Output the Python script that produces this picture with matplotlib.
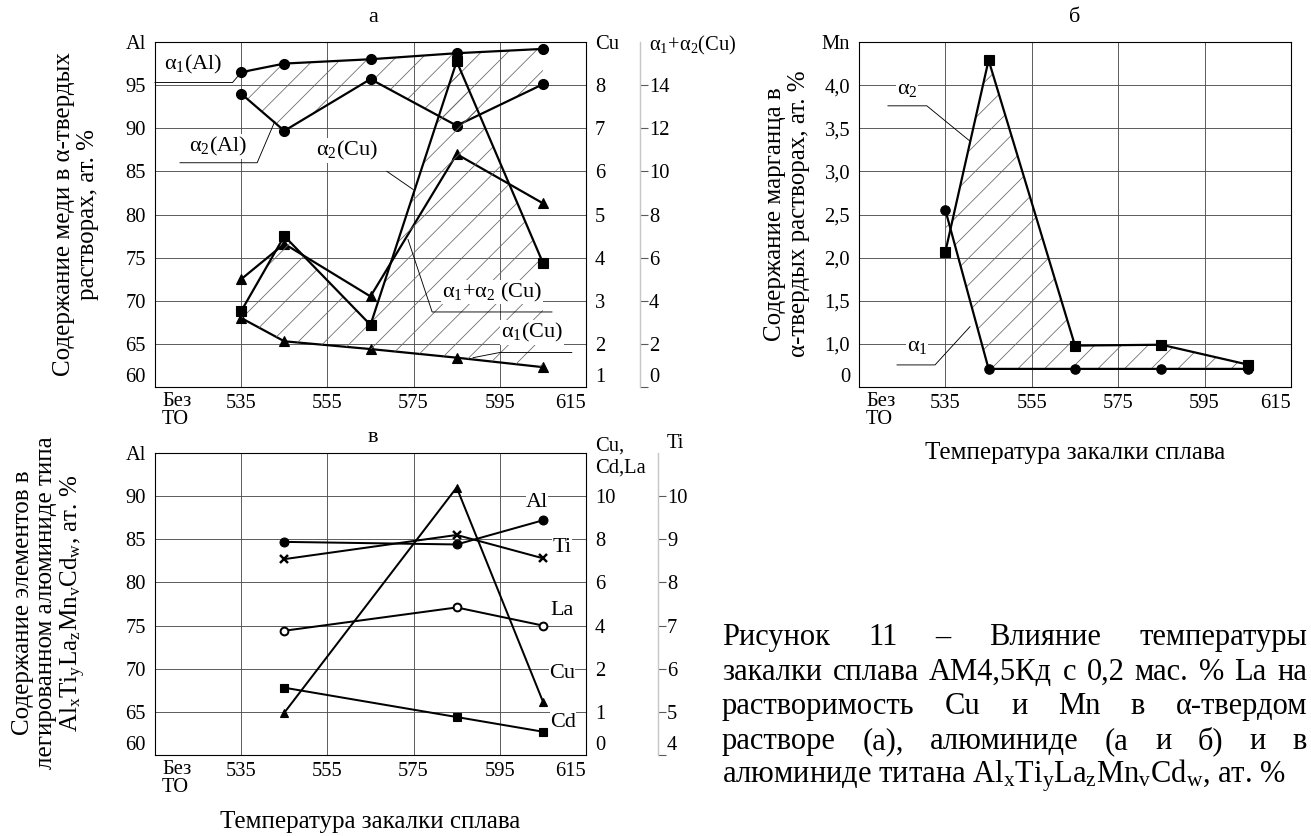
import numpy as np
import matplotlib.pyplot as plt

plt.rcParams['font.family'] = ['Liberation Serif', 'DejaVu Serif']
plt.rcParams['mathtext.fontset'] = 'custom'
plt.rcParams['mathtext.rm'] = 'Liberation Serif'
plt.rcParams['mathtext.it'] = 'Liberation Serif:italic'
plt.rcParams['mathtext.default'] = 'regular'
plt.rcParams['hatch.linewidth'] = 0.7

W, H, DPI = 1311, 836, 80
FS = 18.5      # tick labels
LFS = 22.5     # axis labels
CAP = 27.5     # caption
AFS = 20       # annotations

# ---- data ----
temp = [535, 545, 565, 585, 605]

# panel a (Al in at.%, Cu in at.%)
a1_al = [96.5, 97.5, 98.0, 98.7, 99.2]
a2_al = [94.0, 89.7, 95.7, 90.3, 95.1]
a2_cu = [3.5, 4.32, 3.1, 6.4, 5.26]
a1_cu = [2.6, 2.06, 1.88, 1.68, 1.46]
sum_cu = [3.52, 7.0, 2.88, 15.1, 5.76]

# panel b (Mn)
mn_a1 = [2.55, 0.71, 0.71, 0.71, 0.71]
mn_a2 = [2.07, 4.29, 0.98, 0.99, 0.76]

# panel v (aluminide composition)
temp_v = [545, 585, 605]
v_al = [84.7, 84.4, 87.2]
v_ti = [8.54, 9.1, 8.56]
v_la = [3.76, 4.84, 4.0]
v_cu = [0.98, 10.4, 1.24]
v_cd = [1.56, 0.88, 0.54]

x_ticks = [515, 535, 555, 575, 595, 615]
x_labels = ['', '535', '555', '575', '595', '615']

# right axis of panel v is piecewise (as printed)
cu_steps = [0, 1, 2, 4, 6, 8, 10, 12]
al_steps = [60, 65, 70, 75, 80, 85, 90, 95]


def fx(px):
    return px / W


def fy(py):
    return 1 - py / H


def box(l, t, r, b):
    return [fx(l), fy(b), (r - l) / W, (b - t) / H]


fig = plt.figure(figsize=(W / DPI, H / DPI), dpi=DPI)


def frame(ax, yticks, ylabels, ylim):
    ax.set_xlim(515, 615)
    ax.set_ylim(*ylim)
    ax.set_xticks(x_ticks, x_labels)
    ax.set_yticks(yticks, ylabels)
    ax.tick_params(length=0, labelsize=FS)
    ax.tick_params(axis='x', pad=6)
    ax.tick_params(axis='y', pad=8)
    ax.grid(True, color='0.3', lw=0.8)
    ax.set_axisbelow(True)
    for s in ax.spines.values():
        s.set_linewidth(1.0)
    ax.get_xticklabels()[-1].set_ha('right')
    ax.get_yticklabels()[0].set_va('bottom')
    ax.annotate('Без\nТО', xy=(0, 0), xycoords='axes fraction', xytext=(7, -5),
                textcoords='offset pixels', ha='left', va='top', fontsize=FS,
                linespacing=0.95)


def right_labels(ax, ticks, labels, ylim):
    ax.set_ylim(*ylim)
    ax.set_yticks(ticks, labels)
    ax.tick_params(length=0, labelsize=FS, pad=8)
    ax.get_yticklabels()[0].set_va('bottom')


def third_axis(ax, pos, ticks, labels, ylim):
    ax.spines['right'].set_position(('axes', pos))
    for s in ['left', 'top', 'bottom']:
        ax.spines[s].set_visible(False)
    ax.spines['right'].set_color('0.78')
    ax.spines['right'].set_linewidth(1.3)
    ax.set_ylim(*ylim)
    ax.set_yticks(ticks, labels)
    ax.tick_params(length=7, width=1, color='0.35', labelsize=FS, pad=1)
    ax.get_yticklabels()[0].set_va('bottom')
    ax.yaxis.get_major_ticks()[-1].tick2line.set_visible(False)


def note(ax, trans, text, xy, path):
    xs, ys = zip(*path)
    ax.plot(xs, ys, color='black', lw=0.8, transform=trans, clip_on=False, zorder=5)
    ax.text(xy[0], xy[1], text, transform=trans, ha='center', va='center',
            fontsize=AFS, zorder=6,
            bbox=dict(facecolor='white', edgecolor='none', pad=0.5))


# ================= panel a =================
ax_a = fig.add_axes(box(155, 42, 586, 387))
frame(ax_a, list(range(60, 101, 5)),
      [str(v) for v in range(60, 100, 5)] + ['Al'], (60, 100))
ax_cu = ax_a.twinx()
right_labels(ax_cu, list(range(1, 10)), [str(v) for v in range(1, 9)] + ['Cu'], (1, 9))
ax_s = ax_a.twinx()
third_axis(ax_s, (640 - 155) / 431, list(range(0, 17, 2)),
           [str(v) for v in range(0, 15, 2)] + ['α$_1$+α$_2$(Cu)'], (0, 16))

hatch_kw = dict(facecolor='none', edgecolor='0.4', hatch='/', lw=0)
ax_a.fill_between(temp, a1_al, a2_al, **hatch_kw)
to_s = ax_cu.transData + ax_s.transData.inverted()
a1_cu_s = to_s.transform(np.column_stack([temp, a1_cu]))[:, 1]
ax_s.fill_between(temp, a1_cu_s, sum_cu, **hatch_kw)

line_kw = dict(color='black', lw=2.0)
ax_a.plot(temp, a1_al, marker='o', ms=9, **line_kw)
ax_a.plot(temp, a2_al, marker='o', ms=9, **line_kw)
ax_cu.plot(temp, a2_cu, marker='^', ms=9, **line_kw)
ax_cu.plot(temp, a1_cu, marker='^', ms=9, **line_kw)
ax_s.plot(temp, sum_cu, marker='s', ms=8.5, **line_kw)

ta = ax_a.transData
note(ax_s, ta, 'α$_1$(Al)', (523.8, 97.4), [(515, 95.3), (533, 95.3), (535, 96.5)])
note(ax_s, ta, 'α$_2$(Al)', (529.6, 87.9), [(520.8, 86.0), (538.7, 86.0), (542.8, 90.8)])
note(ax_s, ta, 'α$_2$(Cu)', (559.5, 87.4), [(568.8, 85.0), (574.9, 82.9)])
note(ax_s, ta, 'α$_1$+α$_2$ (Cu)', (593.2, 71.0),
     [(573.7, 77.1), (579.3, 68.7), (607.1, 68.7)])
note(ax_s, ta, 'α$_1$(Cu)', (602.5, 66.3), [(588.8, 63.4), (595.0, 64.0), (611.7, 64.0)])

# ================= panel b =================
ax_b = fig.add_axes(box(859, 42, 1291, 387))
frame(ax_b, [0.5, 1.0, 1.5, 2.0, 2.5, 3.0, 3.5, 4.0, 4.5],
      ['0', '1,0', '1,5', '2,0', '2,5', '3,0', '3,5', '4,0', 'Mn'], (0.5, 4.5))
ax_b.fill_between(temp, mn_a1, mn_a2, interpolate=True, **hatch_kw)
ax_b.plot(temp, mn_a2, marker='s', ms=8.5, **line_kw)
ax_b.plot(temp, mn_a1, marker='o', ms=8.5, **line_kw)
tb = ax_b.transData
note(ax_b, tb, 'α$_2$', (526.1, 3.95), [(521.7, 3.76), (530.7, 3.76), (540.7, 3.35)])
note(ax_b, tb, 'α$_1$', (528.4, 0.97), [(523.8, 0.756), (532.6, 0.756), (540.7, 1.2)])

# ================= panel v =================
ax_v = fig.add_axes(box(155, 453, 586, 755))
frame(ax_v, list(range(60, 96, 5)),
      [str(v) for v in range(60, 95, 5)] + ['Al'], (60, 95))
ax_r = ax_v.twinx()
ax_r.set_yscale('function', functions=(lambda v: np.interp(v, cu_steps, al_steps),
                                       lambda v: np.interp(v, al_steps, cu_steps)))
right_labels(ax_r, cu_steps, [str(v) for v in cu_steps[:-1]] + ['Cu,\nCd,La'], (0, 12))
ax_ti = ax_v.twinx()
third_axis(ax_ti, (658 - 155) / 431, list(range(4, 12)),
           [str(v) for v in range(4, 11)] + ['Ti'], (4, 11))
ax_ti.get_yticklabels()[-1].set_va('bottom')

vk = dict(color='black', lw=1.8)
ax_v.plot(temp_v, v_al, marker='o', ms=8, **vk)
ax_ti.plot(temp_v, v_ti, marker='x', ms=8, mew=2.2, **vk)
ax_r.plot(temp_v, v_la, marker='o', ms=7, mfc='white', mew=1.8, **vk)
ax_r.plot(temp_v, v_cu, marker='^', ms=8, **vk)
ax_r.plot(temp_v, v_cd, marker='s', ms=7.5, **vk)

tv = ax_v.transData
for name, xy in [('Al', (603.6, 89.3)), ('Ti', (609.4, 84.0)), ('La', (609.4, 76.8)),
                 ('Cu', (609.4, 69.5)), ('Cd', (609.7, 63.8))]:
    ax_ti.text(xy[0], xy[1], name, transform=tv, ha='center', va='center',
               fontsize=AFS, zorder=6,
               bbox=dict(facecolor='white', edgecolor='none', pad=0.3))

# ================= titles and labels =================
fig.text(fx(373), fy(17), 'а', fontsize=AFS, ha='center', va='center')
fig.text(fx(1075), fy(17), 'б', fontsize=AFS, ha='center', va='center')
fig.text(fx(373), fy(437), 'в', fontsize=AFS, ha='center', va='center')

fig.text(fx(76), fy(214), 'Содержание меди в α-твердых\nрастворах, ат. %',
         rotation=90, ha='center', va='center', fontsize=LFS, linespacing=1.15)
fig.text(fx(787), fy(214), 'Содержание марганца в\nα-твердых растворах, ат. %',
         rotation=90, ha='center', va='center', fontsize=LFS, linespacing=1.15)
fig.text(fx(50), fy(603),
         'Содержание элементов в\nлегированном алюминиде типа\n'
         'Al$_x$Ti$_y$La$_z$Mn$_v$Cd$_w$, ат. %',
         rotation=90, ha='center', va='center', fontsize=LFS, linespacing=1.1)
fig.text(fx(1075), fy(453), 'Температура закалки сплава', ha='center', va='center',
         fontsize=LFS)
fig.text(fx(370), fy(822), 'Температура закалки сплава', ha='center', va='center',
         fontsize=LFS)

# ================= caption (justified) =================
caption = ['Рисунок 11 – Влияние температуры',
           'закалки сплава АМ4,5Кд с 0,2 мас. % La на',
           'растворимость Cu и Mn в α-твердом',
           'растворе (а), алюминиде (а и б) и в']
last_line = 'алюминиде титана Al$_x$Ti$_y$La$_z$Mn$_v$Cd$_w$, ат. %'
cap_x0, cap_x1 = 722, 1307
cap_base = [645, 680, 714, 749, 783]
renderer = fig.canvas.get_renderer()
for line, yb in zip(caption, cap_base):
    words = line.split(' ')
    texts = [fig.text(0, fy(yb), w, fontsize=CAP, va='baseline') for w in words]
    widths = [t.get_window_extent(renderer).width for t in texts]
    gap = (cap_x1 - cap_x0 - sum(widths)) / (len(words) - 1)
    x = cap_x0
    for t, w in zip(texts, widths):
        t.set_x(fx(x))
        x += w + gap
fig.text(fx(cap_x0), fy(cap_base[-1]), last_line, fontsize=CAP, va='baseline')

fig.savefig('out.png', dpi=DPI)
